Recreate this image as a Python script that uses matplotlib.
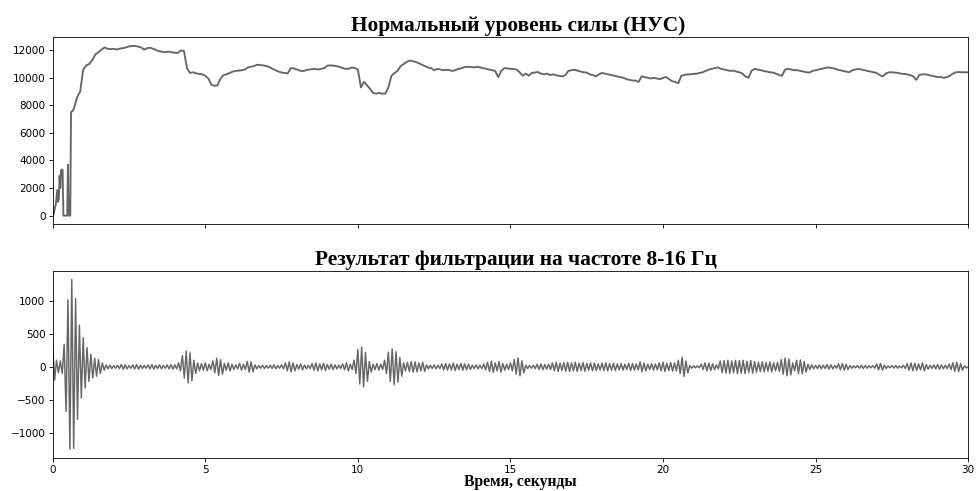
import numpy as np
import matplotlib

matplotlib.use("Agg")
import matplotlib.pyplot as plt

# --- data -------------------------------------------------------------------

# normal force level: fast onset sampled every 0.025 s (0 .. 0.675 s)
nus_onset = [
    0, 50, 300, 600, 800, 1300, 1850, 1000, 1200, 2900, 2000, 3300, 3350, 3300,
    0, 0, 0, 0, 0, 0, 3700, 0, 0, 0, 7500, 7550, 7600, 7700,
]
# then every 0.1 s (0.7 .. 30.0 s)
nus_main = [
    7800, 8600, 9000,
    10600, 10900, 11000, 11300, 11700, 11850, 12050, 12200, 12100, 12080,
    12100, 12050, 12120, 12150, 12200, 12280, 12300, 12320, 12260, 12200,
    12050, 12150, 12180, 12100, 12000, 11920, 11880, 11860, 11900, 11850,
    11820, 11800, 11980, 11950, 10700, 10350, 10400, 10320, 10280, 10250,
    10150, 9950, 9500, 9420, 9450, 9950, 10200, 10250, 10350, 10450,
    10500, 10520, 10550, 10600, 10750, 10800, 10850, 10950, 10920, 10900,
    10850, 10780, 10650, 10550, 10450, 10380, 10350, 10320, 10700, 10680,
    10600, 10520, 10480, 10550, 10600, 10620, 10650, 10600, 10650, 10700,
    10880, 10900, 10880, 10850, 10780, 10700, 10650, 10650, 10750, 10700,
    10600, 9300, 9700, 9450, 9200, 8900, 8850, 8900, 8850, 8850,
    9300, 10150, 10350, 10500, 10850, 11000, 11150, 11250, 11200, 11150,
    11050, 10950, 10850, 10750, 10700, 10550, 10650, 10600, 10550, 10580,
    10550, 10500, 10560, 10650, 10700, 10780, 10800, 10780, 10750, 10800,
    10760, 10700, 10650, 10600, 10550, 10500, 10050, 10500, 10700, 10680,
    10650, 10640, 10600, 10400, 10150, 10300, 10150, 10350, 10380, 10420,
    10300, 10250, 10300, 10200, 10250, 10180, 10150, 10100, 10200, 10500,
    10550, 10580, 10520, 10450, 10400, 10380, 10250, 10200, 10100, 10250,
    10350, 10300, 10250, 10200, 10150, 10100, 10050, 10000, 9900, 9850,
    9800, 9800, 9700, 10100, 10050, 10000, 9950, 10000, 9950, 9900,
    10000, 10050, 9900, 9750, 9700, 9600, 10150, 10200, 10250, 10250,
    10280, 10300, 10350, 10400, 10500, 10600, 10650, 10700, 10750, 10650,
    10600, 10550, 10500, 10520, 10450, 10400, 10300, 10100, 10000, 10500,
    10650, 10600, 10550, 10500, 10450, 10400, 10380, 10300, 10200, 10150,
    10600, 10650, 10600, 10550, 10550, 10500, 10450, 10400, 10380, 10500,
    10550, 10600, 10650, 10700, 10750, 10720, 10680, 10600, 10550, 10500,
    10450, 10400, 10550, 10600, 10650, 10600, 10550, 10500, 10450, 10400,
    10350, 10200, 10100, 10300, 10400, 10400, 10380, 10350, 10300, 10280,
    10250, 10200, 10100, 9850, 10200, 10250, 10250, 10200, 10150, 10100,
    10050, 10050, 10000, 10050, 10150, 10300, 10400, 10420, 10400, 10400,
    10400,
]

# 8-16 Hz band: signed half-wave peaks of the first burst, every 0.0625 s
filt_burst = [
    330, -200, 100, -90, 90, -100, 340, -670, 1010, -1240, 1320, -1230,
    1030, -790, 630, -470, 440, -320, 290, -220, 190, -170, 130, -140,
    110, -100, 60, -50,
]
# then amplitude of each 0.125 s wave, from 1.75 s on
filt_amp = [
    30, 25,
    20, 25, 35, 30, 20, 30, 35, 25,
    20, 30, 35, 25, 30, 20, 30, 35,
    30, 60, 170, 240, 210, 100, 60, 50,
    60, 40, 90, 130, 110, 50, 60, 40,
    30, 50, 40, 80, 75, 30, 20, 25,
    20, 25, 30, 20, 30, 60, 75, 60,
    35, 45, 30, 25, 50, 60, 45, 55,
    35, 40, 30, 25, 45, 60, 40, 100,
    260, 300, 220, 80, 40, 50, 40, 100,
    220, 270, 230, 140, 60, 70, 80, 75,
    60, 70, 30, 25, 30, 25, 45, 50,
    45, 55, 40, 50, 45, 40, 25, 30,
    25, 45, 70, 85, 60, 80, 50, 40,
    60, 110, 135, 90, 25, 20, 25, 40,
    45, 35, 40, 60, 70, 55, 65, 70,
    60, 70, 55, 65, 50, 60, 55, 45,
    55, 60, 50, 55, 45, 50, 40, 55,
    50, 45, 75, 60, 40, 50, 45, 60,
    70, 55, 65, 60, 100, 145, 90, 20,
    15, 15, 40, 60, 55, 45, 30, 90,
    95, 100, 90, 100, 95, 100, 85, 95,
    80, 70, 75, 65, 75, 60, 70, 110,
    135, 120, 60, 100, 105, 80, 40, 30,
    25, 30, 25, 35, 30, 20, 45, 50,
    40, 20, 15, 20, 25, 20, 15, 20,
    45, 50, 25, 15, 20, 20, 15, 25,
    50, 60, 55, 45, 60, 35, 25, 30,
    35, 30, 25, 40, 65, 70, 50, 15,
]

top_title = "Нормальный уровень силы (НУС)"
bottom_title = "Результат фильтрации на частоте 8-16 Гц"
x_label = "Время, секунды"

# --- series -----------------------------------------------------------------

nus_t = np.concatenate([
    np.arange(len(nus_onset)) * 0.025,
    0.7 + np.arange(len(nus_main)) * 0.1,
])
nus_y = np.array(nus_onset + nus_main, dtype=float)

amp = np.array(filt_amp, dtype=float)
filt_y = np.concatenate([filt_burst, np.column_stack([amp, -amp]).ravel(), [0]])
filt_t = np.arange(len(filt_y)) * 0.0625
filt_t[-1] = 30.0

# --- figure -----------------------------------------------------------------

line_color = "#666666"
title_font = dict(family="Liberation Serif", fontweight="bold")

fig, (ax_top, ax_bot) = plt.subplots(
    2, 1, sharex=True, figsize=(976 / 75, 491 / 75), dpi=75
)
fig.subplots_adjust(left=0.054, right=0.992, top=0.924, bottom=0.068, hspace=0.25)

ax_top.plot(nus_t, nus_y, color=line_color, linewidth=1.8)
ax_top.set_title(top_title, fontsize=20.5, x=0.508, **title_font)

ax_bot.plot(filt_t, filt_y, color=line_color, linewidth=1.4)
ax_bot.set_title(bottom_title, fontsize=20.5, x=0.506, **title_font)
ax_bot.set_xlabel(x_label, fontsize=15, labelpad=-1, x=0.511, **title_font)

ax_bot.set_xlim(0, 30)
ax_bot.set_xticks([0, 5, 10, 15, 20, 25, 30])

fig.savefig("out.png", dpi=75)
